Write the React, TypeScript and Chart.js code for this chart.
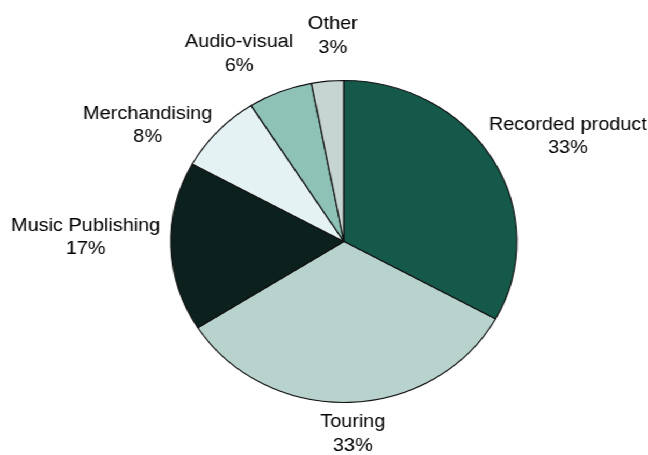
import React, { useEffect, useRef } from "react";
import { Chart, registerables } from "chart.js";

Chart.register(...registerables);

const categories = ["Recorded product", "Touring", "Music Publishing", "Merchandising", "Audio-visual", "Other"];
const shares = [33, 33, 17, 8, 6, 3];
const shareLabels = ["33%", "33%", "17%", "8%", "6%", "3%"];
const sliceColors = ["#15594b", "#b8d3ce", "#0c211e", "#e5f2f4", "#8fc2b6", "#c6d5d2"];
// small label nudges (px) applied after radial placement, to mimic the reference layout
const labelNudgeX = [-2, 2, 0, -14, -16, 8];
const labelNudgeY = [-6, -2, -10, 17, -7, -12];

const CANVAS_W = 603;
const CANVAS_H = 455;
const STRETCH = 648 / 603;

const FONT_PX = 18.5;
const LINE_H = 23.5;

const labelPlugin = {
  id: "outsideLabels",
  afterDatasetsDraw(chart: any) {
    const ctx = chart.ctx;
    const meta = chart.getDatasetMeta(0);
    ctx.save();
    ctx.font = `${FONT_PX}px "Liberation Sans", Arial, sans-serif`;
    ctx.fillStyle = "#000";
    ctx.textAlign = "center";
    ctx.textBaseline = "middle";
    meta.data.forEach((arc: any, i: number) => {
      const p = arc.getProps(["x", "y", "startAngle", "endAngle", "outerRadius"], true);
      const mid = (p.startAngle + p.endAngle) / 2;
      const ux = Math.cos(mid);
      const uy = Math.sin(mid);
      const lines = [categories[i], shareLabels[i]];
      const w = Math.max(...lines.map((l) => ctx.measureText(l).width));
      const h = LINE_H * 2;
      const r = p.outerRadius + 10;
      const cx = p.x + ux * r + (ux * w) / 2 + labelNudgeX[i];
      const cy = p.y + uy * r + (uy * h) / 2 + labelNudgeY[i];
      ctx.fillText(lines[0], cx, cy - LINE_H / 2);
      ctx.fillText(lines[1], cx, cy + LINE_H / 2);
    });
    ctx.restore();
  },
};

export default function App() {
  const ref = useRef<HTMLCanvasElement | null>(null);
  useEffect(() => {
    if (!ref.current) return;
    const chart = new Chart(ref.current, {
      type: "pie",
      data: {
        labels: categories,
        datasets: [
          {
            data: shares,
            backgroundColor: sliceColors,
            borderColor: "#111",
            borderWidth: 1.2,
          },
        ],
      },
      options: {
        animation: false,
        responsive: false,
        devicePixelRatio: 1,
        radius: 161,
        layout: { padding: { top: 80, bottom: 52, left: 159, right: 122 } },
        plugins: {
          legend: { display: false },
          tooltip: { enabled: false },
        },
      } as any,
      plugins: [labelPlugin],
    });
    return () => chart.destroy();
  }, []);
  return (
    <div
      style={{
        position: "fixed",
        left: 0,
        top: 0,
        width: CANVAS_W,
        height: CANVAS_H,
        background: "#fff",
        transform: `scaleX(${STRETCH})`,
        transformOrigin: "0 0",
      }}
    >
      <canvas
        ref={ref}
        width={CANVAS_W}
        height={CANVAS_H}
        style={{ width: CANVAS_W, height: CANVAS_H, display: "block" }}
      />
    </div>
  );
}
